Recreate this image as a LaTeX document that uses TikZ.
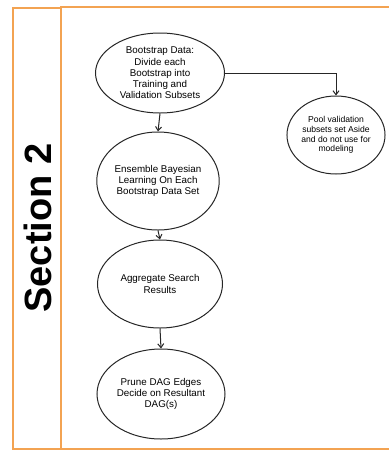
\documentclass[tikz,border=0pt]{standalone}
\usepackage{fontspec}
\setmainfont{Liberation Sans}
\usetikzlibrary{shapes.geometric,arrows.meta}
\definecolor{secorange}{RGB}{243,163,82}

\begin{document}
\begin{tikzpicture}[x=1pt,y=-1pt,
  stage/.style={ellipse,draw=black!85,line width=1pt,inner sep=0pt,align=center,
    font=\fontsize{9.8}{11.3}\selectfont},
  flow/.style={draw=black!85,line width=1pt,-{Straight Barb[length=4pt,width=6pt]}}]

% Page frame
\useasboundingbox (0,0) rectangle (389,451);
\clip (0,0) rectangle (389,451);

% Section boxes
\def\BoxTop{7};
\def\BoxBot{449};
\def\Split{61};
\draw[secorange,line width=2pt] (13,\BoxTop+1) rectangle (\Split,\BoxBot);
\draw[secorange,line width=2pt] (\Split,\BoxTop) rectangle (400,\BoxBot);
\node[rotate=90,font=\bfseries\fontsize{38}{40}\selectfont] (title) at (38,228) {Section 2};

% Stages
\node[stage,minimum width=129pt,minimum height=80pt] (boot) at (160,73) {Bootstrap Data:\\Divide each\\Bootstrap into\\Training and\\Validation Subsets};
\node[stage,minimum width=98pt,minimum height=78pt,font=\fontsize{8.6}{9.8}\selectfont] (pool) at (336,135) {Pool validation\\subsets set Aside\\and do not use for\\modeling};
\node[stage,minimum width=121pt,minimum height=98pt] (ens) at (158,181) {Ensemble Bayesian\\Learning On Each\\Bootstrap Data Set};
\node[stage,minimum width=125pt,minimum height=88pt] (agg) at (160,284) {Aggregate Search\\Results};
\node[stage,minimum width=128pt,minimum height=90pt] (prune) at (161,394) {Prune DAG Edges\\Decide on Resultant\\DAG(s)};

% Connectors
\draw[flow] (boot.south) -- (ens.north);
\draw[flow] (ens.south) -- (agg.north);
\draw[flow] (agg.south) -- (prune.north);
\draw[flow] (boot.east) -| (pool.north);
\end{tikzpicture}
\end{document}
